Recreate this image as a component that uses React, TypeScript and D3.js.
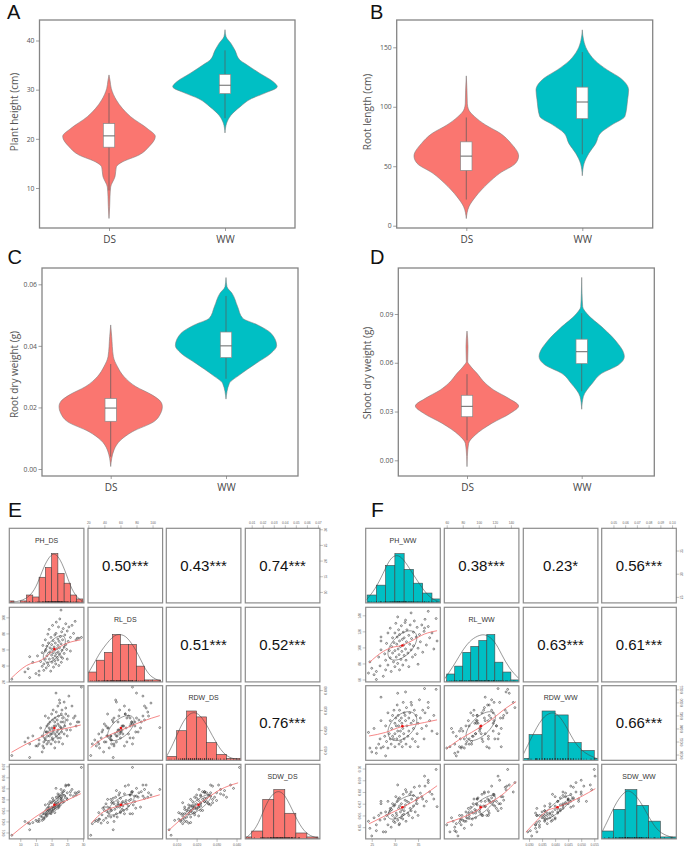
import { useEffect, useRef } from 'react'
import * as d3 from 'd3'

const groups = ['DS', 'WW']
const dsColor = '#FA7670'
const wwColor = '#00BFC4'

// Violin outlines: trait value along the axis, half width
const plantDsValue = [33, 31.9, 30.2, 27.9, 26.2, 24.5, 22.1, 20.5, 18.4, 16.7, 15.3, 14.3, 12.3, 10.2, 8.2, 6.2, 3.8]
const plantDsWidth = [0, 3, 7, 22, 40, 65, 115, 139, 120, 90, 40, 22, 18, 5, 3, 2, 0]
const plantWwValue = [42.2, 40.8, 39.4, 38, 36, 35.3, 33.3, 31.6, 30.6, 29.3, 28.2, 26.5, 24.8, 23.2, 21.2]
const plantWwWidth = [0, 3, 18, 30, 45, 60, 105, 145, 157, 120, 80, 45, 18, 5, 0]
const plantBox = [[9.5, 18.3, 20.6, 23.1, 29.3], [24.2, 29.2, 30.9, 33.1, 38]]

const rootDsValue = [126, 114, 103, 97, 91.7, 84.7, 77.7, 69, 58.6, 52.5, 44, 35.6, 24.4, 16, 6]
const rootDsWidth = [0, 2, 3, 8, 25, 58, 102, 135, 157, 148, 100, 65, 28, 8, 0]
const rootWwValue = [164.7, 156, 148, 139, 131, 124, 114, 106, 92, 85, 78, 69, 61, 52, 42]
const rootWwWidth = [0, 4, 14, 38, 75, 115, 139, 136, 128, 90, 55, 40, 20, 5, 0]
const rootBox = [[22, 46.5, 58.5, 70.5, 91], [60, 90, 104, 116.5, 146]]

const rdwDsValue = [0.0468, 0.043, 0.0365, 0.0333, 0.03, 0.0268, 0.024, 0.0219, 0.0203, 0.0181, 0.0154, 0.0121, 0.0094, 0.0062, 0.0008]
const rdwDsWidth = [0, 3, 8, 20, 40, 75, 125, 150, 155, 150, 130, 65, 30, 10, 0]
const rdwWwValue = [0.0622, 0.0592, 0.0571, 0.0527, 0.049, 0.0468, 0.0441, 0.0401, 0.0376, 0.0343, 0.0305, 0.0278, 0.0227]
const rdwWwWidth = [0, 3, 18, 35, 50, 95, 135, 152, 135, 90, 40, 10, 0]
const rdwBox = [[0.004, 0.0155, 0.0198, 0.0229, 0.0341], [0.0293, 0.0362, 0.04, 0.0445, 0.0562]]

const sdwDsValue = [0.0795, 0.0699, 0.0607, 0.0586, 0.0535, 0.0474, 0.0433, 0.0381, 0.0334, 0.0289, 0.0228, 0.0156, 0.0105, 0.0023, -0.0039]
const sdwDsWidth = [0, 3, 2, 8, 30, 55, 80, 125, 155, 130, 75, 25, 5, 1, 0]
const sdwWwValue = [0.1125, 0.1027, 0.0945, 0.0904, 0.0812, 0.074, 0.0638, 0.0586, 0.0535, 0.0474, 0.0392, 0.0314]
const sdwWwWidth = [0, 1, 3, 15, 65, 100, 128, 110, 60, 32, 5, 0]
const sdwBox = [[0.0123, 0.0268, 0.0332, 0.04, 0.053], [0.0425, 0.0595, 0.0668, 0.0745, 0.0905]]

// Scatter matrix samples, same order in every array (dry weights in mg)
const phDs = [7.3, 29.5, 23, 13, 11.5, 12.5, 13, 14, 15, 15.5, 16, 16.5, 16, 17, 17, 17.2, 17.5, 17.5, 18, 18, 18, 18.2, 18.3, 18.5, 18.5, 18.7, 18.8, 19, 19, 19, 19.2, 19.3, 19.5, 19.5, 19.7, 19.8, 20, 20, 20.1, 20.2, 20.3, 20.4, 20.5, 20.5, 20.6, 20.8, 21, 21, 21, 21.1, 21.2, 21.3, 21.4, 21.5, 21.5, 21.7, 21.8, 22, 22, 22, 22.1, 22.2, 22.3, 22.4, 22.5, 22.5, 22.6, 22.8, 23, 23, 23.1, 23.2, 23.3, 23.5, 23.5, 23.7, 24, 24, 24.2, 24.5, 24.5, 24.8, 25, 25, 25.3, 25.5, 26, 26, 26.5, 27, 27.5, 27.8, 28.2, 28.7]
const rlDs = [23, 75, 109, 51, 32, 36, 25, 44, 30, 52, 33, 45, 28, 39, 56, 65, 42, 34, 72, 48, 58, 60, 37, 52, 64, 43, 79, 55, 68, 40, 85, 48, 57, 62, 33, 75, 53, 66, 44, 60, 90, 49, 71, 56, 38, 63, 46, 78, 59, 52, 68, 42, 80, 55, 94, 61, 50, 73, 47, 65, 57, 88, 40, 70, 54, 62, 98, 76, 51, 67, 44, 82, 59, 72, 49, 86, 63, 55, 78, 66, 92, 60, 83, 48, 70, 88, 75, 58, 90, 80, 95, 72, 74, 74]
const rdwDs = [7.2, 41.5, 21.2, 6.2, 14, 16, 13, 17, 12, 12, 13, 21, 15, 9, 17, 12, 14, 11, 16, 15, 27, 19, 19, 13, 22, 17, 19, 14, 26, 23, 21, 17, 24, 20, 18, 13, 18, 28, 21, 16, 25, 15, 30, 19, 20, 22, 11, 24, 18, 26, 14, 22, 38.5, 17, 29, 19, 25, 23, 16, 32, 20, 27, 14, 18, 35, 22, 33.5, 16, 24, 21, 28, 19, 30, 26, 13, 24, 18, 34, 22, 28, 31, 20, 25, 17, 27, 37, 23, 20, 32, 26, 27, 22, 24, 24]
const sdwDs = [7.5, 69, 49, 12.5, 20, 18.5, 18, 19, 21, 20, 22, 25, 20, 21, 24, 27, 23, 22, 27, 24, 35, 28, 26, 25, 30, 29, 32, 27, 36, 30, 33, 30, 38, 31, 28, 27, 31, 37, 33, 29, 41, 30, 39, 33, 32, 34, 28, 38, 33, 36, 31, 36, 50, 34, 42, 35, 38, 40, 32, 45, 36, 43, 33, 34, 42, 37, 44, 35, 41, 39, 40, 42, 46, 44, 37, 47, 38, 48, 43, 52, 53, 41, 46, 40, 53, 53, 47, 44, 49, 43, 46, 44, 46, 47]

const phWw = [38.9, 25, 37.2, 33.5, 39.1, 36.4, 30.6, 32.3, 27, 24.3, 24.6, 25.5, 26, 26, 26.5, 26.8, 27, 27, 27.5, 27.8, 28, 28, 28.2, 28.5, 28.5, 28.8, 29, 29, 29.2, 29.3, 29.5, 29.5, 29.7, 29.8, 30, 30, 30, 30.2, 30.3, 30.4, 30.5, 30.6, 30.7, 30.8, 30.9, 31, 31, 31, 31.2, 31.3, 31.4, 31.5, 31.6, 31.7, 31.8, 31.9, 32, 32, 32.2, 32.3, 32.4, 32.5, 32.6, 32.8, 33, 33, 33.2, 33.3, 33.5, 33.6, 33.8, 34, 34, 34.2, 34.4, 34.6, 34.8, 35, 35, 35.3, 35.5, 35.8, 36, 36.3, 36.5, 36.8, 37.2, 37.5, 38, 38.4]
const rlWw = [136, 74, 145, 143, 108, 124, 138, 134, 108, 68, 82, 66, 60, 70, 88, 77, 97, 113, 64, 92, 72, 84, 105, 118, 78, 96, 87, 124, 70, 101, 93, 112, 82, 106, 76, 118, 96, 130, 88, 104, 113, 80, 98, 122, 91, 108, 72, 116, 101, 85, 127, 95, 110, 78, 119, 103, 90, 112, 131, 98, 84, 107, 122, 93, 115, 76, 104, 128, 97, 111, 88, 119, 102, 133, 91, 113, 125, 99, 79, 116, 107, 128, 94, 120, 135, 103, 126, 112, 118, 98]
const rdwWw = [55, 31, 48, 50, 38, 55.3, 53.5, 54, 52, 38.5, 32.5, 40, 32.5, 30.5, 34, 36, 43, 32.5, 33, 37, 29.5, 41, 35, 46, 32.5, 38, 43, 36, 34, 40, 45, 37, 36, 47, 33, 42, 38, 44, 41, 36, 49, 39, 45, 41, 34, 43, 37, 47, 39, 35, 44, 42, 33, 40, 50, 38, 46, 36, 45, 43, 34, 48, 41, 37, 44, 39, 46, 33, 42, 49, 36, 43, 40, 47, 35, 45, 38, 42, 33, 51, 44, 40, 47, 36, 46, 41, 50, 43, 39, 45]
const sdwWw = [99.2, 42.5, 88, 80, 67.5, 93.5, 86, 82, 72, 55, 49, 58, 52, 47, 60, 56, 70, 62, 46, 57, 46, 63, 60, 72, 52, 62, 66, 64, 50, 65, 70, 60, 55, 68, 54, 69, 58, 76, 62, 60, 72, 56, 74, 66, 52, 68, 53, 75, 63, 58, 70, 65, 60, 57, 78, 61, 67, 64, 73, 69, 55, 80, 72, 62, 71, 60, 78, 66, 64, 74, 58, 77, 68, 84, 63, 73, 70, 75, 60, 85, 79, 76, 74, 68, 85, 72, 90, 80, 78, 74]

// Histogram bins and the fitted curve on the diagonal
const phDsEdges = [6, 8, 10, 12, 14, 16, 18, 20, 22, 24, 26, 28, 30]
const phDsCounts = [1, 0, 1, 4, 3, 13, 18, 25, 15, 10, 4, 2]
const phDsCurveX = [6.5, 11, 14.1, 16, 17.9, 19.9, 21.1, 22.7, 24.8, 26.4, 28.5, 30.2]
const phDsCurveY = [0.2, 1, 5, 11.7, 20, 24.7, 25, 22.5, 14.2, 6.7, 2, 0.7]
const rlDsEdges = [20, 30, 40, 50, 60, 70, 80, 90, 100, 110]
const rlDsCounts = [5, 11, 15, 24, 19, 19, 8, 1, 1]
const rlDsCurveX = [19.6, 30.4, 34.5, 51, 59.4, 67.7, 80.2, 88.5, 96.8, 110.5]
const rlDsCurveY = [4.2, 11.7, 15, 23.8, 24.2, 23.3, 15.8, 8.3, 2.5, 0.3]
const rdwDsEdges = [0.005, 0.01, 0.015, 0.02, 0.025, 0.03, 0.035, 0.04, 0.045]
const rdwDsCounts = [2, 15, 25, 22, 9, 3, 1, 1]
const rdwDsCurveX = [0.0048, 0.0083, 0.0117, 0.015, 0.0183, 0.0217, 0.0258, 0.03, 0.0342, 0.0383, 0.0422]
const rdwDsCurveY = [1.7, 8.3, 16.7, 22.5, 24.7, 23.3, 16.7, 8.3, 2.5, 0.7, 0.2]
const sdwDsEdges = [0, 0.01, 0.02, 0.03, 0.04, 0.05, 0.06, 0.07]
const sdwDsCounts = [1, 4, 20, 25, 13, 3, 1]
const sdwDsCurveX = [0.0042, 0.0145, 0.0221, 0.0282, 0.0342, 0.0403, 0.0479, 0.0555, 0.063, 0.0718]
const sdwDsCurveY = [0.3, 5, 16.7, 22.5, 24.7, 22.5, 13.3, 5, 1.3, 0.2]

const phWwEdges = [24, 26, 28, 30, 32, 34, 36, 38, 40]
const phWwCounts = [4, 9, 19, 25, 17, 10, 5, 2]
const phWwCurveX = [23.9, 25.7, 27.5, 28.9, 30.4, 31.8, 33.6, 35.4, 37.1, 38.6, 39.8]
const phWwCurveY = [1.7, 6.7, 15, 22.5, 24.7, 22.5, 15.8, 9.2, 3.7, 1.3, 0.5]
const rlWwEdges = [60, 70, 80, 90, 100, 110, 120, 130, 140, 150]
const rlWwCounts = [4, 8, 15, 18, 21, 24, 10, 5, 1]
const rlWwCurveX = [57, 70.3, 80.6, 90.9, 101, 109, 120, 128, 138, 150]
const rlWwCurveY = [1.3, 9.2, 16.7, 21.7, 23.8, 24.2, 20.8, 14.2, 6.7, 1.7]
const rdwWwEdges = [0.025, 0.03, 0.035, 0.04, 0.045, 0.05, 0.055, 0.06]
const rdwWwCounts = [1, 13, 25, 23, 9, 5, 1]
const rdwWwCurveX = [0.0278, 0.031, 0.0349, 0.0387, 0.0413, 0.0445, 0.0477, 0.0515, 0.0564]
const rdwWwCurveY = [3, 11.7, 21.7, 24.7, 23.3, 16.7, 8.3, 3.3, 0.7]
const sdwWwEdges = [0.04, 0.05, 0.06, 0.07, 0.08, 0.09, 0.1, 0.11]
const sdwWwCounts = [4, 15, 25, 17, 9, 1, 1]
const sdwWwCurveX = [0.0401, 0.0458, 0.0528, 0.0599, 0.0641, 0.0712, 0.0782, 0.0853, 0.0924, 0.1037]
const sdwWwCurveY = [3.3, 10, 19.2, 24.2, 24.7, 20.8, 13.3, 5.8, 2, 0.2]

// Red smoothers below the diagonal, one per [row, col]
const smoothDs = [
  { row: 1, col: 0, x: [7.2, 12, 16.8, 20.5, 23.7, 29.3], y: [24.5, 40, 47, 58, 65.7, 72] },
  { row: 2, col: 0, x: [7.2, 12, 17.3, 20.5, 23.7, 29.3], y: [0.0088, 0.013, 0.017, 0.0197, 0.0205, 0.0225] },
  { row: 2, col: 1, x: [23, 38.7, 51, 58.6, 76, 88.5, 109], y: [0.0112, 0.0158, 0.0183, 0.0195, 0.0225, 0.0245, 0.0272] },
  { row: 3, col: 0, x: [7.2, 12, 17.3, 20.5, 23.7, 29.3], y: [0.0071, 0.0182, 0.0287, 0.0338, 0.0377, 0.0452] },
  { row: 3, col: 1, x: [24, 38.7, 47, 58, 74, 92.6, 109], y: [0.0188, 0.0287, 0.0317, 0.0338, 0.0371, 0.0407, 0.0442] },
  { row: 3, col: 2, x: [0.0058, 0.0117, 0.0167, 0.0197, 0.025, 0.0317, 0.0408], y: [0.0116, 0.0212, 0.0287, 0.0338, 0.0407, 0.0487, 0.055] },
]
const smoothWw = [
  { row: 1, col: 0, x: [24.4, 27.5, 29.6, 31.3, 33.5, 36.4, 39.1], y: [80.8, 95, 100.4, 102, 107.8, 116.7, 120.8] },
  { row: 2, col: 0, x: [24.4, 28, 31.3, 33.5, 36.4, 39.1], y: [0.0371, 0.0385, 0.0406, 0.0413, 0.0423, 0.0433] },
  { row: 2, col: 1, x: [60, 76.5, 91, 102.4, 117.6, 132, 146.4], y: [0.0323, 0.0359, 0.0385, 0.0406, 0.0438, 0.0474, 0.0503] },
  { row: 3, col: 0, x: [24.4, 27.9, 31.3, 33.5, 36.4, 39.1], y: [0.0528, 0.0597, 0.0661, 0.0708, 0.0778, 0.0853] },
  { row: 3, col: 1, x: [60, 76.5, 91, 102.4, 117.6, 132, 146.4], y: [0.0536, 0.0575, 0.0617, 0.0661, 0.0722, 0.0792, 0.0889] },
  { row: 3, col: 2, x: [0.0288, 0.033, 0.0368, 0.0403, 0.0451, 0.0503, 0.0554], y: [0.0458, 0.0556, 0.0639, 0.0667, 0.0708, 0.0764, 0.0828] },
]

const corrDs = ['0.50***', '0.43***', '0.74***', '0.51***', '0.52***', '0.76***']
const corrWw = ['0.38***', '0.23*', '0.56***', '0.63***', '0.61***', '0.66***']

const mg = (v: number) => v / 1000

const traitsDs = [
  { name: 'PH_DS', values: phDs, domain: [6.5, 30.3], ticks: [10, 15, 20, 25, 30], fmt: 'd', edges: phDsEdges, counts: phDsCounts, cx: phDsCurveX, cy: phDsCurveY },
  { name: 'RL_DS', values: rlDs, domain: [19.6, 112.5], ticks: [20, 40, 60, 80, 100], fmt: 'd', edges: rlDsEdges, counts: rlDsCounts, cx: rlDsCurveX, cy: rlDsCurveY },
  { name: 'RDW_DS', values: rdwDs.map(mg), domain: [0.0048, 0.0422], ticks: [0.01, 0.02, 0.03, 0.04], fmt: '.3f', edges: rdwDsEdges, counts: rdwDsCounts, cx: rdwDsCurveX, cy: rdwDsCurveY },
  { name: 'SDW_DS', values: sdwDs.map(mg), domain: [0.0042, 0.0718], ticks: [0.01, 0.02, 0.03, 0.04, 0.05, 0.06, 0.07], fmt: '.2f', edges: sdwDsEdges, counts: sdwDsCounts, cx: sdwDsCurveX, cy: sdwDsCurveY },
]
const traitsWw = [
  { name: 'PH_WW', values: phWw, domain: [23.7, 39.8], ticks: [25, 30, 35], fmt: 'd', edges: phWwEdges, counts: phWwCounts, cx: phWwCurveX, cy: phWwCurveY },
  { name: 'RL_WW', values: rlWw, domain: [57, 150], ticks: [60, 80, 100, 120, 140], fmt: 'd', edges: rlWwEdges, counts: rlWwCounts, cx: rlWwCurveX, cy: rlWwCurveY },
  { name: 'RDW_WW', values: rdwWw.map(mg), domain: [0.0278, 0.0564], ticks: [0.03, 0.035, 0.04, 0.045, 0.05, 0.055], fmt: '.3f', edges: rdwWwEdges, counts: rdwWwCounts, cx: rdwWwCurveX, cy: rdwWwCurveY },
  { name: 'SDW_WW', values: sdwWw.map(mg), domain: [0.04, 0.1036], ticks: [0.05, 0.06, 0.07, 0.08, 0.09, 0.1], fmt: '.2f', edges: sdwWwEdges, counts: sdwWwCounts, cx: sdwWwCurveX, cy: sdwWwCurveY },
]

const violinPanels = [
  {
    letter: 'A', lx: 7, ly: 18.5, left: 39.5, right: 295, top: 20, bottom: 228, cx: [109, 225], label: 'Plant height (cm)', labelX: 14, labelY: 112,
    tickValues: [10, 20, 30, 40], fmt: 'd', domain: [10, 40], range: [188, 40.5],
    outlines: [[plantDsValue, plantDsWidth], [plantWwValue, plantWwWidth]], box: plantBox,
  },
  {
    letter: 'B', lx: 370, ly: 18.5, left: 396.7, right: 652.7, top: 20, bottom: 228, cx: [466.3, 582.3], label: 'Root length (cm)', labelX: 367.5, labelY: 112,
    tickValues: [0, 50, 100, 150], fmt: 'd', domain: [0, 150], range: [225.7, 47.3],
    outlines: [[rootDsValue, rootDsWidth], [rootWwValue, rootWwWidth]], box: rootBox,
  },
  {
    letter: 'C', lx: 7.5, ly: 264, left: 42, right: 298, top: 268, bottom: 476, cx: [110.7, 226], label: 'Root dry weight (g)', labelX: 14, labelY: 374.5,
    tickValues: [0, 0.02, 0.04, 0.06], fmt: '.2f', domain: [0, 0.06], range: [469, 284.3],
    outlines: [[rdwDsValue, rdwDsWidth], [rdwWwValue, rdwWwWidth]], box: rdwBox,
  },
  {
    letter: 'D', lx: 370, ly: 264, left: 398.3, right: 654.3, top: 268, bottom: 476, cx: [467, 581.7], label: 'Shoot dry weight (g)', labelX: 367, labelY: 373,
    tickValues: [0, 0.03, 0.06, 0.09], fmt: '.2f', domain: [0, 0.09], range: [460.3, 314],
    outlines: [[sdwDsValue, sdwDsWidth], [sdwWwValue, sdwWwWidth]], box: sdwBox,
  },
]

const matrixRowsY = [528.3, 607.3, 685.7, 764.3]
const matrixColsDs = [9.3, 88, 166.3, 245.3]
const matrixColsWw = [365.7, 444.3, 523.3, 601.7]
const cellSize = 74.6

type Sel = d3.Selection<any, unknown, null, undefined>

function drawViolinPanel(svg: Sel, p: (typeof violinPanels)[number]) {
  const y = d3.scaleLinear().domain(p.domain).range(p.range)
  const halfWidth = d3.scaleLinear().domain([0, 160]).range([0, 53.3])
  const g = svg.append('g')

  g.append('text').attr('x', p.lx).attr('y', p.ly).attr('font-size', 20).attr('font-family', 'Liberation Sans').attr('fill', '#111').text(p.letter)

  p.outlines.forEach(([values, widths], i) => {
    const area = d3
      .area<number>()
      .y((d) => y(d))
      .x0((_, k) => p.cx[i] - halfWidth(widths[k]))
      .x1((_, k) => p.cx[i] + halfWidth(widths[k]))
      .curve(d3.curveMonotoneY)
    g.append('path')
      .datum(values)
      .attr('d', area)
      .attr('fill', i === 0 ? dsColor : wwColor)
      .attr('stroke', '#777')
      .attr('stroke-width', 0.55)

    const [lo, q1, med, q3, hi] = p.box[i]
    const boxHalf = 5.7
    g.append('line').attr('x1', p.cx[i]).attr('x2', p.cx[i]).attr('y1', y(lo)).attr('y2', y(hi)).attr('stroke', '#5a5a5a').attr('stroke-width', 0.7)
    g.append('rect')
      .attr('x', p.cx[i] - boxHalf)
      .attr('width', boxHalf * 2)
      .attr('y', y(q3))
      .attr('height', y(q1) - y(q3))
      .attr('fill', 'white')
      .attr('stroke', '#8a8a8a')
      .attr('stroke-width', 0.7)
    g.append('line')
      .attr('x1', p.cx[i] - boxHalf)
      .attr('x2', p.cx[i] + boxHalf)
      .attr('y1', y(med))
      .attr('y2', y(med))
      .attr('stroke', '#555')
      .attr('stroke-width', 0.9)
  })

  g.append('rect')
    .attr('x', p.left)
    .attr('y', p.top)
    .attr('width', p.right - p.left)
    .attr('height', p.bottom - p.top)
    .attr('fill', 'none')
    .attr('stroke', '#858585')
    .attr('stroke-width', 1.3)

  // Y axis
  const yAxis = g
    .append('g')
    .attr('transform', `translate(${p.left},0)`)
    .call(d3.axisLeft(y).tickValues(p.tickValues).tickFormat(d3.format(p.fmt) as any).tickSize(3.5).tickPadding(1.5))
  yAxis.select('.domain').remove()
  yAxis.selectAll('.tick line').attr('stroke', '#777').attr('stroke-width', 0.7)
  yAxis.selectAll('text').attr('fill', '#555').attr('font-size', 6.8).attr('font-family', 'Open Sans')

  // X axis
  const x = d3.scaleOrdinal<string, number>().domain(groups).range(p.cx)
  const xAxis = g
    .append('g')
    .attr('transform', `translate(0,${p.bottom})`)
    .call(d3.axisBottom(x as any).tickSize(3).tickPadding(5))
  xAxis.select('.domain').remove()
  xAxis.selectAll('.tick line').attr('stroke', '#777').attr('stroke-width', 0.7)
  xAxis.selectAll('text').attr('fill', '#444').attr('font-size', 10).attr('font-family', 'Open Sans')

  g.append('text')
    .attr('transform', `translate(${p.labelX},${p.labelY}) rotate(-90)`)
    .attr('dy', '0.35em')
    .attr('text-anchor', 'middle')
    .attr('font-size', 10)
    .attr('font-family', 'Open Sans')
    .attr('fill', '#555')
    .text(p.label)
}

function drawMatrix(
  svg: Sel,
  idPrefix: string,
  letter: string,
  letterX: number,
  colsX: number[],
  traits: typeof traitsDs,
  corrLabels: string[],
  smooths: typeof smoothDs,
  fill: string
) {
  const g = svg.append('g').attr('font-family', 'Liberation Sans')
  g.append('text').attr('x', letterX).attr('y', 517).attr('font-size', 21).attr('fill', '#111').text(letter)

  const xScales = traits.map((t, c) => d3.scaleLinear().domain(t.domain).range([colsX[c], colsX[c] + cellSize]))
  const yScales = traits.map((t, r) => d3.scaleLinear().domain(t.domain).range([matrixRowsY[r] + cellSize, matrixRowsY[r]]))
  const countY = (r: number) => d3.scaleLinear().domain([0, 25]).range([matrixRowsY[r] + cellSize, matrixRowsY[r] + cellSize - 49.3])

  let corrIndex = 0
  traits.forEach((rowTrait, r) => {
    traits.forEach((colTrait, c) => {
      const cx0 = colsX[c]
      const cy0 = matrixRowsY[r]
      const clipId = `${idPrefix}-${r}-${c}`
      g.append('clipPath').attr('id', clipId).append('rect').attr('x', cx0).attr('y', cy0).attr('width', cellSize).attr('height', cellSize)
      const cell = g.append('g').attr('clip-path', `url(#${clipId})`)
      const x = xScales[c]

      if (r === c) {
        // Histogram, fitted curve and rug
        const h = countY(r)
        cell
          .selectAll('rect')
          .data(colTrait.counts)
          .enter()
          .append('rect')
          .attr('x', (_, i) => x(colTrait.edges[i]))
          .attr('width', (_, i) => x(colTrait.edges[i + 1]) - x(colTrait.edges[i]))
          .attr('y', (d) => h(d))
          .attr('height', (d) => h(0) - h(d))
          .attr('fill', fill)
          .attr('stroke', '#444')
          .attr('stroke-width', 0.6)
        const curve = d3
          .line<number>()
          .x((d) => x(d))
          .y((_, i) => h(colTrait.cy[i]))
          .curve(d3.curveBasis)
        cell.append('path').datum(colTrait.cx).attr('d', curve).attr('fill', 'none').attr('stroke', '#444').attr('stroke-width', 0.55)
        cell
          .append('g')
          .selectAll('line')
          .data(colTrait.values)
          .enter()
          .append('line')
          .attr('x1', (d) => x(d))
          .attr('x2', (d) => x(d))
          .attr('y1', h(0))
          .attr('y2', h(0) - 1.8)
          .attr('stroke', '#111')
          .attr('stroke-width', 0.35)
        g.append('text')
          .attr('x', cx0 + cellSize / 2)
          .attr('y', cy0 + 14.7)
          .attr('text-anchor', 'middle')
          .attr('font-size', 7)
          .attr('fill', '#333')
          .text(colTrait.name)
      } else if (r < c) {
        g.append('text')
          .attr('x', cx0 + cellSize / 2)
          .attr('y', cy0 + cellSize / 2 + 5.2)
          .attr('text-anchor', 'middle')
          .attr('font-size', 15)
          .attr('fill', '#111')
          .text(corrLabels[corrIndex])
        corrIndex += 1
      } else {
        // Scatter with mean, ellipse and smoother
        const y = yScales[r]
        const xs = colTrait.values
        const ys = rowTrait.values
        const mx = d3.mean(xs) as number
        const my = d3.mean(ys) as number
        const sx = d3.deviation(xs) as number
        const sy = d3.deviation(ys) as number
        const rho = d3.sum(xs, (d, i) => (d - mx) * (ys[i] - my)) / ((xs.length - 1) * sx * sy)
        const angles = d3.range(0, 2 * Math.PI, Math.PI / 24)
        const ellipse = d3
          .line<number>()
          .x((t) => x(mx + 0.9 * sx * Math.cos(t)))
          .y((t) => y(my + 0.9 * sy * Math.cos(t - Math.acos(rho))))
          .curve(d3.curveCardinalClosed)
        cell.append('path').attr('d', ellipse(angles) as string).attr('fill', 'none').attr('stroke', '#333').attr('stroke-width', 0.5)
        cell
          .append('g')
          .selectAll('circle')
          .data(xs)
          .enter()
          .append('circle')
          .attr('cx', (d) => x(d))
          .attr('cy', (_, i) => y(ys[i]))
          .attr('r', 0.95)
          .attr('fill', 'none')
          .attr('stroke', '#3a3a3a')
          .attr('stroke-width', 0.6)
        const sm = smooths.find((s) => s.row === r && s.col === c)
        if (sm) {
          const smLine = d3
            .line<number>()
            .x((d) => x(d))
            .y((_, i) => y(sm.y[i]))
            .curve(d3.curveMonotoneX)
          cell.append('path').datum(sm.x).attr('d', smLine).attr('fill', 'none').attr('stroke', '#F26B6B').attr('stroke-width', 0.8)
        }
        cell.append('circle').attr('cx', x(mx)).attr('cy', y(my)).attr('r', 1.3).attr('fill', '#EE1111')
      }

      g.append('rect')
        .attr('x', cx0)
        .attr('y', cy0)
        .attr('width', cellSize)
        .attr('height', cellSize)
        .attr('fill', 'none')
        .attr('stroke', '#8c8c8c')
        .attr('stroke-width', 1.2)
    })
  })

  // Axes alternate around the outside of the matrix
  traits.forEach((t, i) => {
    const fmt = d3.format(t.fmt) as any
    const xAxis = i % 2 === 0 ? d3.axisBottom(xScales[i]) : d3.axisTop(xScales[i])
    const xg = g
      .append('g')
      .attr('transform', `translate(0,${i % 2 === 0 ? matrixRowsY[3] + cellSize : matrixRowsY[0]})`)
      .call(xAxis.tickValues(t.ticks).tickFormat(fmt).tickSize(3).tickPadding(1.5))
    const yAxis = i % 2 === 0 ? d3.axisRight(yScales[i]) : d3.axisLeft(yScales[i])
    const yg = g
      .append('g')
      .attr('transform', `translate(${i % 2 === 0 ? colsX[3] + cellSize : colsX[0]},0)`)
      .call(yAxis.tickValues(t.ticks).tickFormat(fmt).tickSize(3).tickPadding(1.5))
    yg.selectAll('text')
      .attr('text-anchor', 'middle')
      .attr('x', 0)
      .attr('dy', 0)
      .attr('y', i % 2 === 0 ? 6.8 : -4.8)
      .attr('transform', 'rotate(-90)')
    ;[xg, yg].forEach((a) => {
      a.select('.domain').remove()
      a.selectAll('.tick line').attr('stroke', '#666').attr('stroke-width', 0.4)
      a.selectAll('text').attr('fill', '#666').attr('font-size', 3.3).attr('font-family', 'Liberation Sans')
    })
  })
}

export default function App() {
  const svgRef = useRef<SVGSVGElement>(null)

  useEffect(() => {
    if (!svgRef.current) return
    const svg = d3.select(svgRef.current) as unknown as Sel
    svg.selectAll('*').remove()

    violinPanels.forEach((p) => drawViolinPanel(svg, p))
    drawMatrix(svg, 'ds', 'E', 8, matrixColsDs, traitsDs, corrDs, smoothDs, dsColor)
    drawMatrix(svg, 'ww', 'F', 371, matrixColsWw, traitsWw, corrWw, smoothWw, wwColor)
  }, [])

  return <svg ref={svgRef} width={685} height={848} style={{ position: 'absolute', left: 0, top: 0, background: 'white' }} />
}
